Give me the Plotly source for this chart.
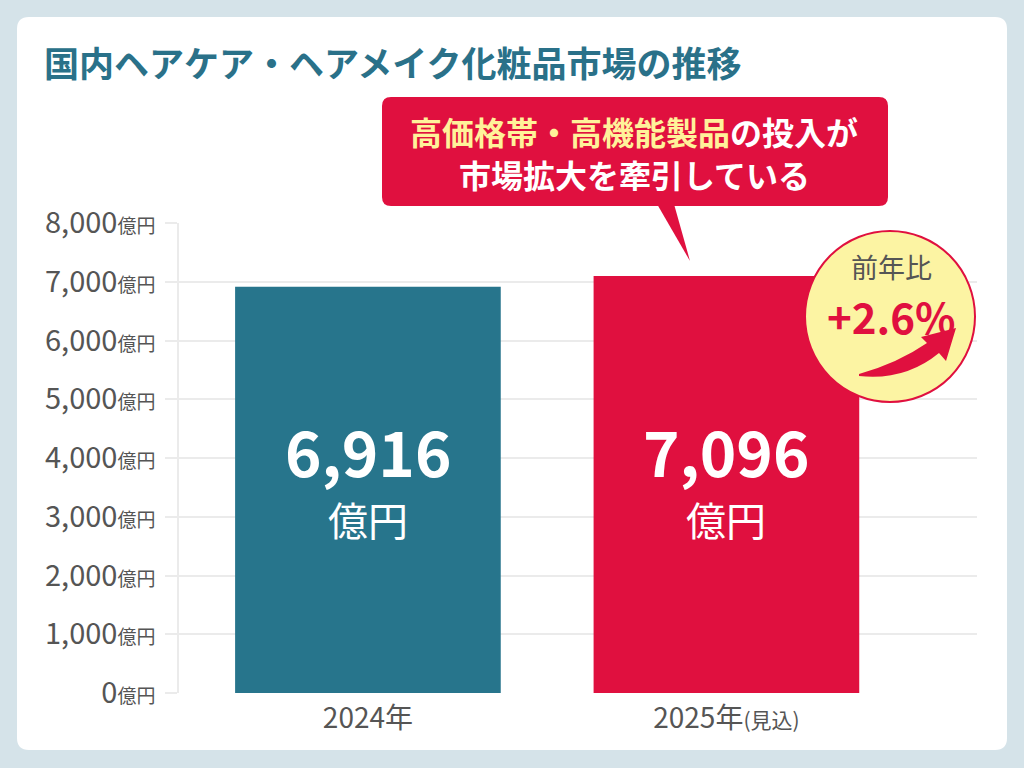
import plotly.graph_objects as go

# ---- data ----
categories = ["2024年", "2025年(見込)"]
tick_labels_x = ["2024年", "2025年<span style='font-size:21px'>(見込)</span>"]
values = [6916, 7096]
bar_colors = ["#27758c", "#e0103f"]
y_ticks = [0, 1000, 2000, 3000, 4000, 5000, 6000, 7000, 8000]
growth_label = "+2.6%"

W, H = 1024, 768
FONT = "Noto Sans CJK JP"


def X(px):
    return px / W


def Y(py):
    return 1 - py / H


def rrect(x0, y0, x1, y1, r):
    p = [
        f"M {X(x0 + r)},{Y(y0)}",
        f"L {X(x1 - r)},{Y(y0)}",
        f"Q {X(x1)},{Y(y0)} {X(x1)},{Y(y0 + r)}",
        f"L {X(x1)},{Y(y1 - r)}",
        f"Q {X(x1)},{Y(y1)} {X(x1 - r)},{Y(y1)}",
        f"L {X(x0 + r)},{Y(y1)}",
        f"Q {X(x0)},{Y(y1)} {X(x0)},{Y(y1 - r)}",
        f"L {X(x0)},{Y(y0 + r)}",
        f"Q {X(x0)},{Y(y0)} {X(x0 + r)},{Y(y0)}",
        "Z",
    ]
    return " ".join(p)


def poly(pts):
    s = f"M {X(pts[0][0])},{Y(pts[0][1])} "
    for a, b in pts[1:]:
        s += f"L {X(a)},{Y(b)} "
    return s + "Z"


fig = go.Figure()
fig.add_trace(go.Bar(
    x=categories, y=values, marker=dict(color=bar_colors, line=dict(width=0)),
    width=0.741, hoverinfo="skip", showlegend=False,
))

y_ticktext = [f"{v:,}<span style='font-size:19px'>億円</span>" for v in y_ticks]

fig.update_layout(
    width=W, height=H,
    margin=dict(l=0, r=0, t=0, b=0, pad=0, autoexpand=False),
    paper_bgcolor="#d5e3e9",
    plot_bgcolor="rgba(0,0,0,0)",
    font=dict(family=FONT, color="#555555"),
    xaxis=dict(
        domain=[X(179), X(977)],
        range=[-0.527, 1.699],
        tickmode="array", tickvals=categories, ticktext=tick_labels_x,
        tickfont=dict(size=28, color="#555555"),
        showgrid=False, zeroline=False, showline=False, ticks="",
        ticklabelstandoff=6, automargin=False,
    ),
    yaxis=dict(
        domain=[Y(693), Y(223)],
        range=[0, 8000],
        tickmode="array", tickvals=y_ticks, ticktext=y_ticktext,
        tickfont=dict(size=29, color="#555555"),
        showgrid=True, gridcolor="#ebebeb", gridwidth=1.5,
        zeroline=False,
        showline=True, linecolor="#ebebeb", linewidth=1.5,
        ticks="outside", ticklen=12, tickcolor="#ebebeb", tickwidth=1.5,
        ticklabelstandoff=4, automargin=False,
    ),
)

shapes = []
# white card
shapes.append(dict(type="path", path=rrect(17, 17, 1007, 750, 12), xref="paper", yref="paper",
                   fillcolor="white", line=dict(width=0), layer="below"))
# callout box
shapes.append(dict(type="path", path=rrect(382, 97, 888, 206, 9), xref="paper", yref="paper",
                   fillcolor="#e0103f", line=dict(width=0), layer="above"))
shapes.append(dict(type="path", path=poly([(657, 204), (690, 261), (674, 204)]), xref="paper", yref="paper",
                   fillcolor="#e0103f", line=dict(width=0), layer="above"))
# circle badge
shapes.append(dict(type="circle", xref="paper", yref="paper",
                   x0=X(805), x1=X(975), y0=Y(402), y1=Y(231),
                   fillcolor="#fcf4a3", line=dict(color="#e0103f", width=2), layer="above"))
# curved arrow
arrow_path = (
    f"M {X(859)},{Y(374)} "
    f"Q {X(898)},{Y(363)} {X(927)},{Y(343)} "
    f"L {X(921)},{Y(337)} "
    f"L {X(956)},{Y(328)} "
    f"L {X(946)},{Y(361)} "
    f"L {X(939)},{Y(353)} "
    f"Q {X(905)},{Y(381)} {X(859)},{Y(376)} Z"
)
shapes.append(dict(type="path", path=arrow_path, xref="paper", yref="paper",
                   fillcolor="#e0103f", line=dict(width=0), layer="above"))
fig.update_layout(shapes=shapes)

ann = []
# title
ann.append(dict(text="<b>国内ヘアケア・ヘアメイク化粧品市場の推移</b>", x=X(42), y=Y(61),
                xref="paper", yref="paper", xanchor="left", yanchor="middle", showarrow=False,
                font=dict(size=35, color="#2a7189", family=FONT)))
# callout text
ann.append(dict(text="<b><span style='color:#fff29a'>高価格帯・高機能製品</span>の投入が</b>",
                x=X(634), y=Y(131), xref="paper", yref="paper", xanchor="center", yanchor="middle",
                showarrow=False, font=dict(size=32, color="white", family=FONT)))
ann.append(dict(text="<b>市場拡大を牽引している</b>",
                x=X(634), y=Y(174), xref="paper", yref="paper", xanchor="center", yanchor="middle",
                showarrow=False, font=dict(size=32, color="white", family=FONT)))
# badge text
ann.append(dict(text="前年比", x=X(891), y=Y(266), xref="paper", yref="paper",
                xanchor="center", yanchor="middle", showarrow=False,
                font=dict(size=27, color="#555555", family=FONT)))
ann.append(dict(text=f"<b>{growth_label}</b>", x=X(891), y=Y(315), xref="paper", yref="paper",
                xanchor="center", yanchor="middle", showarrow=False,
                font=dict(size=42, color="#e0103f", family=FONT)))
# bar value labels
for c, v in zip(categories, values):
    ann.append(dict(text=f"<b>{v:,}</b>", x=c, y=Y(450), xref="x", yref="paper",
                    xanchor="center", yanchor="middle", showarrow=False,
                    font=dict(size=62, color="white", family=FONT)))
    ann.append(dict(text="億円", x=c, y=Y(519), xref="x", yref="paper",
                    xanchor="center", yanchor="middle", showarrow=False,
                    font=dict(size=40, color="white", family=FONT)))
fig.update_layout(annotations=ann)

fig.write_html("out.html")
